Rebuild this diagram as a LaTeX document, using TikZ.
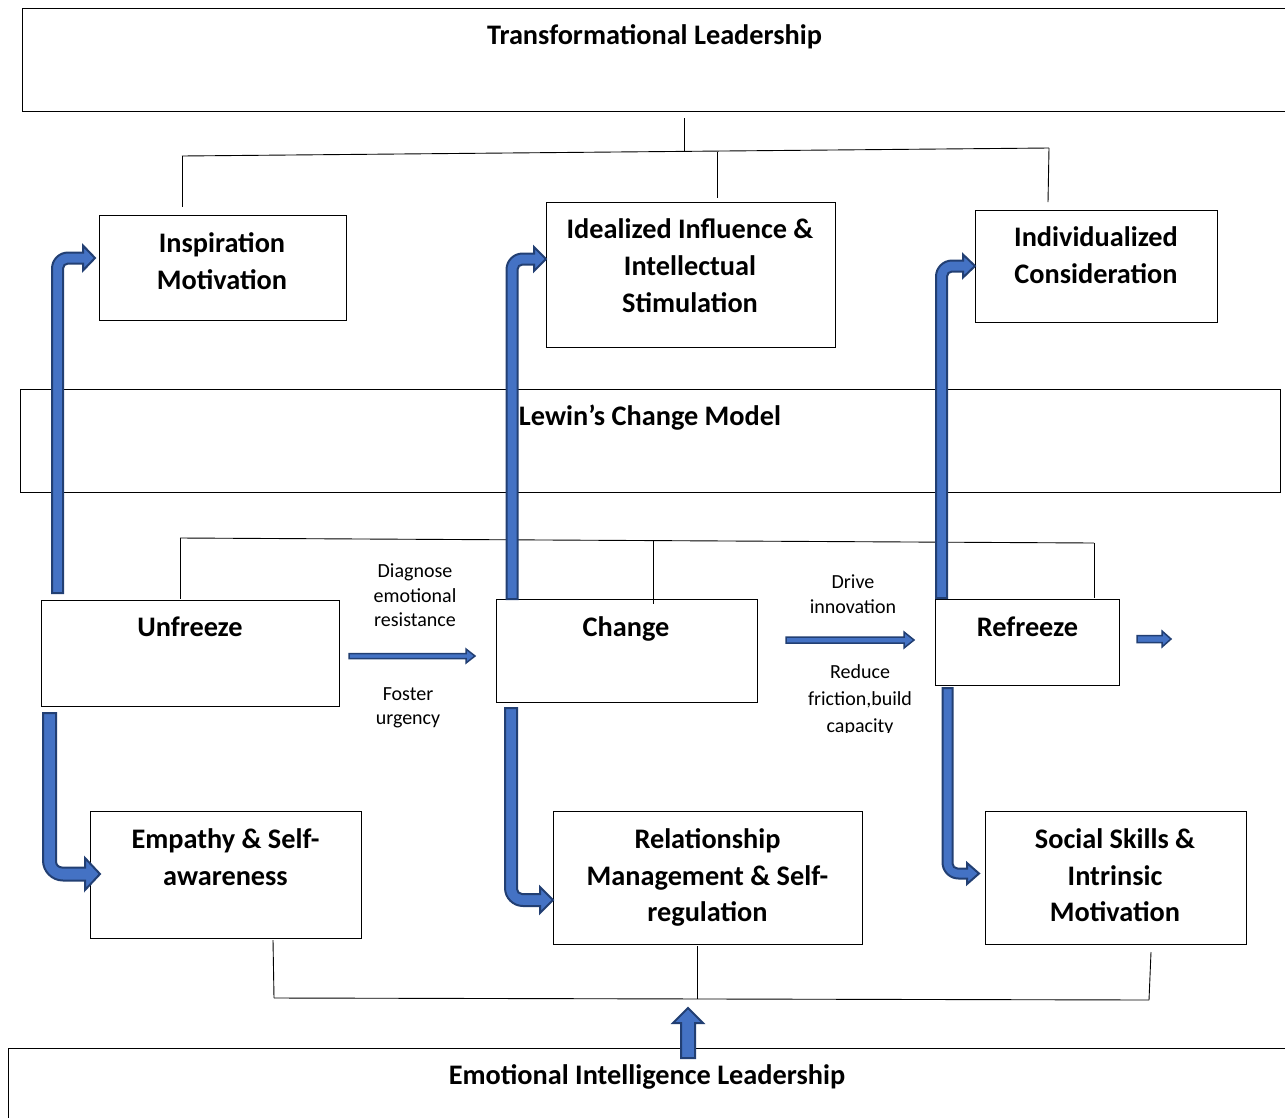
\documentclass[tikz,border=0pt]{standalone}
\usepackage{fontspec}
\setmainfont{Carlito}
\definecolor{afill}{HTML}{4472C4}
\definecolor{aline}{HTML}{223F73}
\tikzset{
 box/.style={draw=black, line width=1.1pt, fill=white, inner sep=0pt, anchor=north west},
 conn/.style={draw=black, line width=0.9pt},
 blk/.style={draw=aline, fill=afill, line width=2pt, line join=miter},
 thinblk/.style={blk, line width=1.5pt},
 big/.style={font=\fontsize{28.3}{33}\selectfont\bfseries, anchor=base, inner sep=0pt},
 small/.style={font=\fontsize{20}{24}\selectfont, anchor=base, inner sep=0pt},
}
\newcommand\mkbox[5]{\node[box, minimum width={#4-#2}, minimum height={#5-#3}] (#1) at (#2,#3) {};}
\newcommand\upbend[9]{\draw[blk] ({#1-#5},#2) -- ({#1-#5},{#3-#5+#8}) .. controls ({#1-#5},{#3-#5+0.45*#8}) and ({#1-#5+0.45*#8},{#3-#5}) .. ({#1-#5+#8},{#3-#5}) -- ({#4-#7},{#3-#5}) -- ({#4-#7},{#3-#6}) -- (#4,#3) -- ({#4-#7},{#3+#6}) -- ({#4-#7},{#3+#5}) -- ({#1+#5+#9},{#3+#5}) .. controls ({#1+#5+0.45*#9},{#3+#5}) and ({#1+#5},{#3+#5+0.45*#9}) .. ({#1+#5},{#3+#5+#9}) -- ({#1+#5},#2) -- cycle;}
\newcommand\downbend[9]{\draw[blk] ({#1-#5},#2) -- ({#1-#5},{#3+#5-#8}) .. controls ({#1-#5},{#3+#5-0.45*#8}) and ({#1-#5+0.45*#8},{#3+#5}) .. ({#1-#5+#8},{#3+#5}) -- ({#4-#7},{#3+#5}) -- ({#4-#7},{#3+#6}) -- (#4,#3) -- ({#4-#7},{#3-#6}) -- ({#4-#7},{#3-#5}) -- ({#1+#5+#9},{#3-#5}) .. controls ({#1+#5+0.45*#9},{#3-#5}) and ({#1+#5},{#3-#5-0.45*#9}) .. ({#1+#5},{#3-#5-#9}) -- ({#1+#5},#2) -- cycle;}
\newcommand\rarrow[6]{\draw[thinblk] (#1,{#3-#4}) -- ({#2-#6},{#3-#4}) -- ({#2-#6},{#3-#5}) -- (#2,#3) -- ({#2-#6},{#3+#5}) -- ({#2-#6},{#3+#4}) -- (#1,{#3+#4}) -- cycle;}
\begin{document}
\begin{tikzpicture}[x=1pt,y=-1pt]
\useasboundingbox (0,0) rectangle (1285,1117);
\fill[white] (0,0) rectangle (1285,1117);
% boxes
\mkbox{tl}{22}{8}{1300}{111}
\mkbox{lewin}{20}{389}{1280}{492}
\mkbox{eil}{8}{1048}{1300}{1130}
\mkbox{insp}{99}{215}{346}{320}
\mkbox{ideal}{546}{202}{835}{347}
\mkbox{indiv}{975}{210}{1217}{322}
\mkbox{unf}{41}{600}{339}{706}
\mkbox{chg}{496}{599}{757}{702}
\mkbox{ref}{935}{599}{1119}{685}
\mkbox{emp}{90}{811}{361}{938}
\mkbox{rel}{553}{811}{862}{944}
\mkbox{soc}{985}{811}{1246}{944}
% bracket connectors
\coordinate (ta) at (684,118); \coordinate (tb) at (684,151);
\coordinate (tL) at (182,156); \coordinate (tR) at (1049,148);
\draw[conn] (ta) -- (tb);
\draw[conn] (tL) -- (tR);
\draw[conn] (tL) -- (182,207);
\draw[conn] (717,152) -- (717,198);
\draw[conn] (tR) -- (1048,202);
\coordinate (mL) at (180,538); \coordinate (mR) at (1094,543);
\draw[conn] (mL) -- (mR);
\draw[conn] (mL) -- (180,599);
\draw[conn] (653,540) -- (653,604);
\draw[conn] (mR) -- (1094,598);
\coordinate (bL) at (274,998); \coordinate (bR) at (1149,1000);
\draw[conn] (bL) -- (bR);
\draw[conn] (273,940) -- (bL);
\draw[conn] (697,946) -- (697,999);
\draw[conn] (1151,952) -- (bR);
% bent block arrows
\upbend{57.5}{593}{258}{95}{5.5}{12.5}{12}{16}{5}
\upbend{512}{599}{259}{546}{5.5}{12}{12}{16}{5}
\upbend{941.5}{598}{266}{975}{5.5}{11.5}{12}{16}{5}
\downbend{49.5}{713}{874}{100}{6.5}{16}{15}{20}{6}
\downbend{511}{708}{900}{553}{6}{13}{13}{18}{5}
\downbend{947.5}{688}{873.5}{979}{5}{10.5}{12}{16}{5}
% straight arrows
\rarrow{349}{475}{656}{2.5}{7}{9}
\rarrow{786}{914}{640}{3}{8}{10}
\rarrow{1137}{1171}{639}{3.5}{8}{9}
\draw[blk] (681,1058) -- (681,1023) -- (673,1023) -- (688,1008) -- (703,1023) -- (695,1023) -- (695,1058) -- cycle;
% texts
\node[big] (t1) at (654.5,44) {Transformational Leadership};
\node[big] (t2a) at (222,252) {Inspiration};
\node[big] (t2b) at (222,289) {Motivation};
\node[big] (t3a) at (690,238) {Idealized Influence \&};
\node[big] (t3b) at (690,275) {Intellectual};
\node[big] (t3c) at (690,312) {Stimulation};
\node[big] (t4a) at (1096,246) {Individualized};
\node[big] (t4b) at (1096,283) {Consideration};
\node[big] (t5) at (650,425) {Lewin’s Change Model};
\node[big] (t6) at (190,636) {Unfreeze};
\node[big] (t7) at (626,636) {Change};
\node[big] (t8) at (1027.5,636) {Refreeze};
\node[big] (t9a) at (225.5,848) {Empathy \& Self-};
\node[big] (t9b) at (225.5,885) {awareness};
\node[big] (t10a) at (707.5,848) {Relationship};
\node[big] (t10b) at (707.5,885) {Management \& Self-};
\node[big] (t10c) at (707.5,921) {regulation};
\node[big] (t11a) at (1115,848) {Social Skills \&};
\node[big] (t11b) at (1115,885) {Intrinsic};
\node[big] (t11c) at (1115,921) {Motivation};
\node[big] (t12) at (647,1084) {Emotional Intelligence Leadership};
\node[small] (s1a) at (415,577) {Diagnose};
\node[small] (s1b) at (415,602) {emotional};
\node[small] (s1c) at (415,626) {resistance};
\node[small] (s2a) at (408,700) {Foster};
\node[small] (s2b) at (408,724) {urgency};
\node[small] (s3a) at (853,588) {Drive};
\node[small] (s3b) at (853,613) {innovation};
\begin{scope}
\clip (780,650) rectangle (950,732);
\node[small] (s4a) at (860,678) {Reduce};
\node[small] (s4b) at (860,705) {friction,build};
\node[small] (s4c) at (860,732) {capacity};
\end{scope}
\end{tikzpicture}
\end{document}
